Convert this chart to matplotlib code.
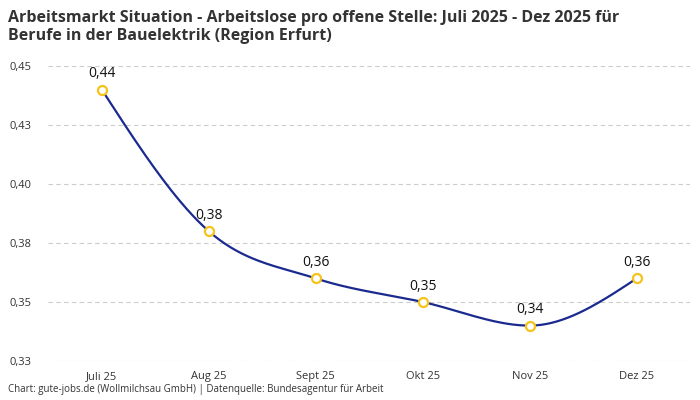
import numpy as np
import matplotlib.pyplot as plt

months = ["Juli 25", "Aug 25", "Sept 25", "Okt 25", "Nov 25", "Dez 25"]
values = [0.44, 0.38, 0.36, 0.35, 0.34, 0.36]
yticks = [0.325, 0.35, 0.375, 0.40, 0.425, 0.45]
ytick_labels = ["0,33", "0,35", "0,38", "0,40", "0,43", "0,45"]

plt.rcParams['font.family'] = ['Open Sans', 'DejaVu Sans']


def monotone_curve(x, y, n=40):
    # monotone cubic (like d3 curveMonotoneX), only for drawing the line
    x = np.asarray(x, float)
    y = np.asarray(y, float)
    h = np.diff(x)
    s = np.diff(y) / h
    m = np.zeros_like(y)
    for i in range(1, len(y) - 1):
        if s[i - 1] * s[i] <= 0:
            m[i] = 0
        else:
            p = (s[i - 1] * h[i] + s[i] * h[i - 1]) / (h[i - 1] + h[i])
            m[i] = (np.sign(s[i - 1]) + np.sign(s[i])) * min(abs(s[i - 1]), abs(s[i]), 0.5 * abs(p))
    m[0] = (3 * s[0] - m[1]) / 2
    m[-1] = (3 * s[-1] - m[-2]) / 2
    xs, ys = [], []
    for i in range(len(x) - 1):
        t = np.linspace(0, 1, n)
        h00 = 2 * t**3 - 3 * t**2 + 1
        h10 = t**3 - 2 * t**2 + t
        h01 = -2 * t**3 + 3 * t**2
        h11 = t**3 - t**2
        xs.extend(x[i] + t * h[i])
        ys.extend(h00 * y[i] + h10 * h[i] * m[i] + h01 * y[i + 1] + h11 * h[i] * m[i + 1])
    return np.array(xs), np.array(ys)


fig = plt.figure(figsize=(7, 4), dpi=100)
ax = fig.add_axes([0.069, 0.0975, 0.917, 0.7375])

x = np.arange(len(months))
cx, cy = monotone_curve(x, values)
ax.plot(cx, cy, color='#1b2a8f', linewidth=1.6, zorder=2)
ax.plot(x, values, 'o', markersize=6.5, markerfacecolor='white',
        markeredgecolor='#f5c31a', markeredgewidth=1.6, zorder=3)
for xi, v in zip(x, values):
    ax.annotate(f"{v:.2f}".replace('.', ','), (xi, v), xytext=(0, 6),
                textcoords='offset points', ha='center', va='bottom',
                fontsize=10, color='#111111', fontweight='medium')

ax.set_xlim(-0.5, 5.5)
ax.set_ylim(0.325, 0.45)
ax.set_yticks(yticks)
ax.set_yticklabels(ytick_labels)
ax.set_xticks(x)
ax.set_xticklabels(months)
ax.tick_params(axis='both', length=0, labelsize=8, colors='#333333')
ax.tick_params(axis='y', pad=12)
ax.tick_params(axis='x', pad=7)
ax.grid(axis='y', color='#cccccc', linestyle=(0, (4, 3)), linewidth=0.8)
for sp in ax.spines.values():
    sp.set_visible(False)
ax.set_axisbelow(True)

fig.text(0.012, 0.975, "Arbeitsmarkt Situation - Arbeitslose pro offene Stelle: Juli 2025 - Dez 2025 für\nBerufe in der Bauelektrik (Region Erfurt)",
         ha='left', va='top', fontsize=11.5, fontweight='bold', color='#333333', linespacing=1.15)
fig.text(0.012, 0.012, "Chart: gute-jobs.de (Wollmilchsau GmbH) | Datenquelle: Bundesagentur für Arbeit",
         ha='left', va='bottom', fontsize=7, color='#333333')

fig.savefig("out.png", dpi=100)
